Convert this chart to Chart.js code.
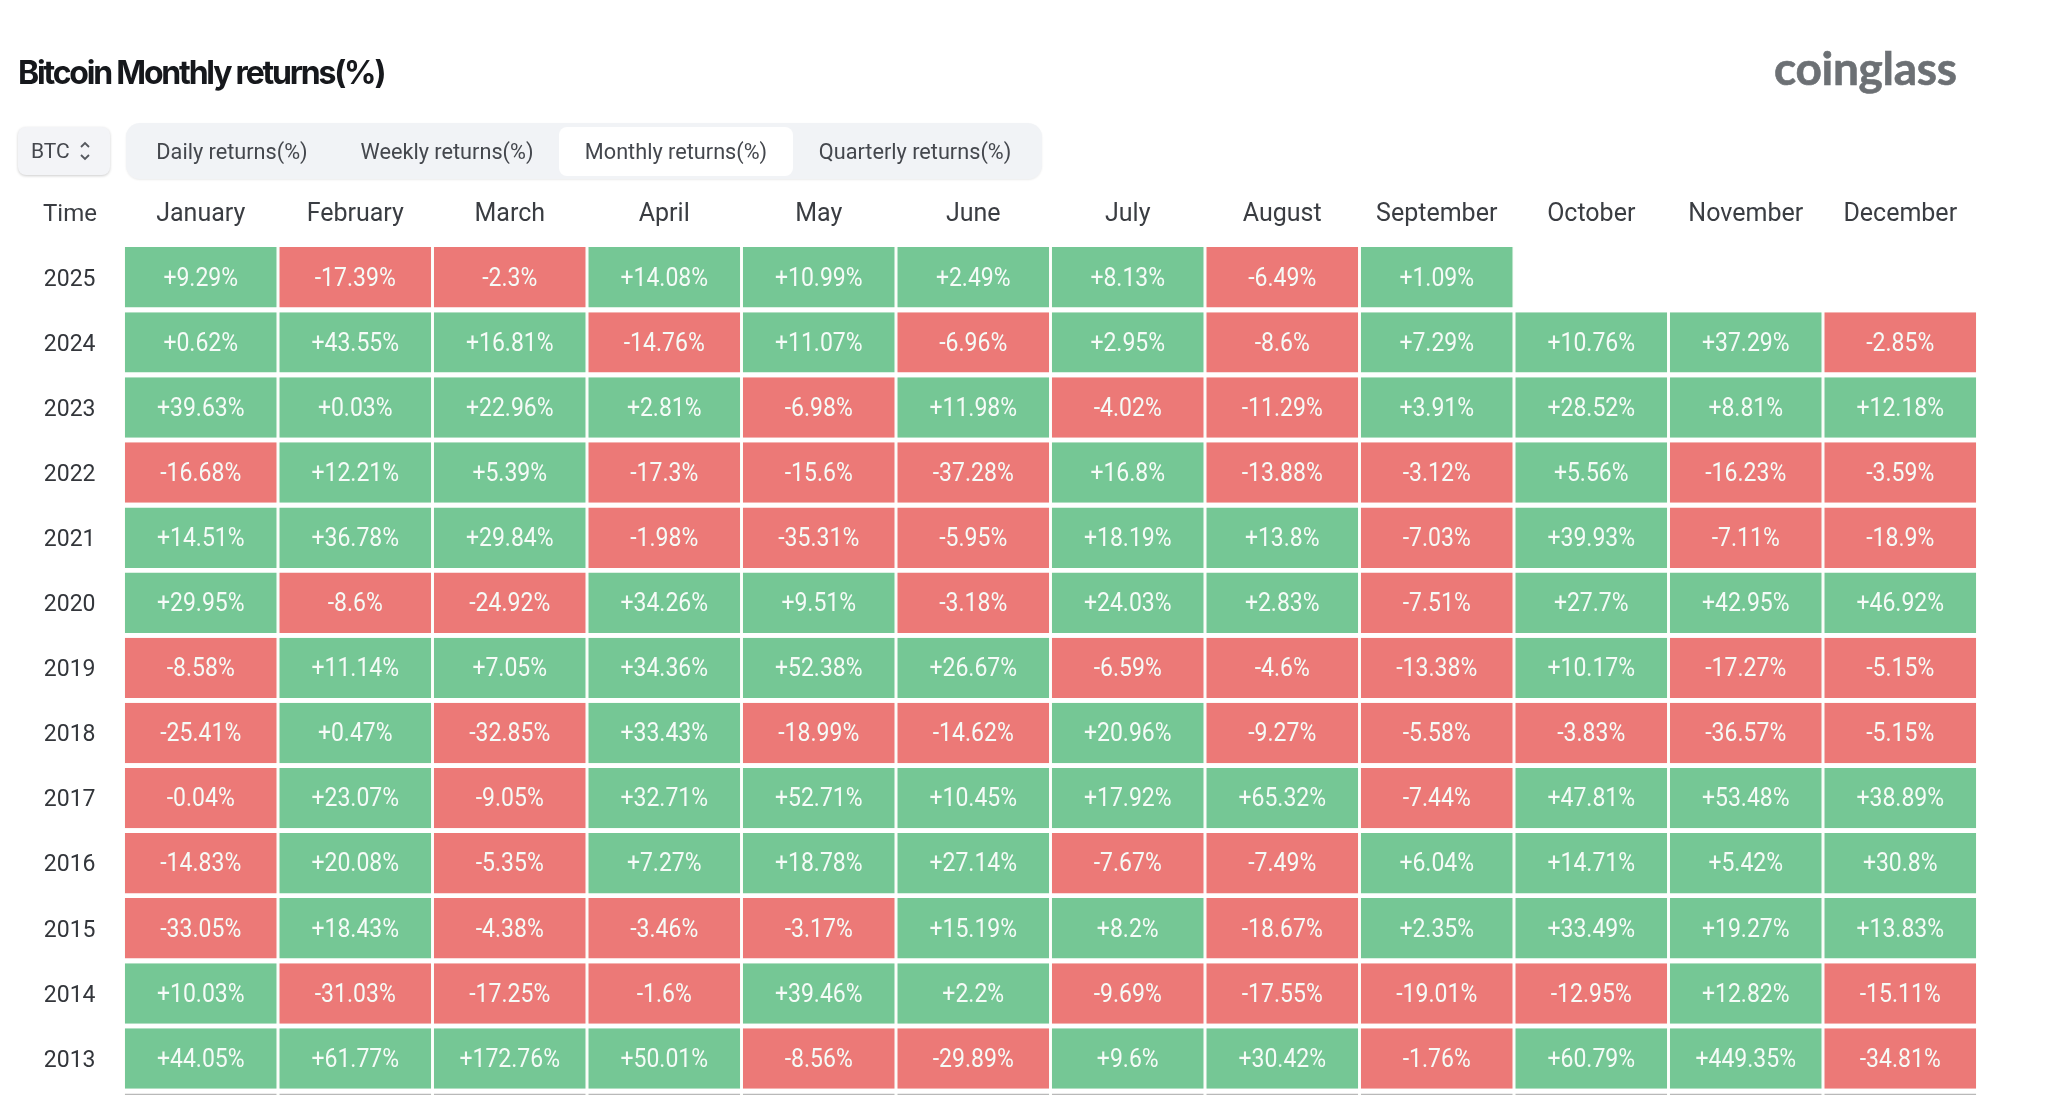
<!DOCTYPE html>
<html>
<head>
<meta charset="utf-8">
<title>Bitcoin Monthly returns(%)</title>
<script src="https://cdn.jsdelivr.net/npm/chart.js@4/dist/chart.umd.min.js"></script>
<style>
  html, body { margin: 0; width: 2048px; height: 1095px; overflow: hidden; background: #fff; font-family: Roboto, sans-serif; }
  .abs { position: absolute; white-space: nowrap; }
  #title { left: 18px; top: 53px; font: 700 32px Inter, sans-serif; letter-spacing: -2.2px; color: #16181c; }
  #logo { left: 1774px; top: 40px; font: 700 46px Lato, sans-serif; color: #6c7074; letter-spacing: -0.3px; -webkit-text-stroke: 0.6px #6c7074; }
  #coin { left: 18px; top: 127px; width: 92px; height: 48px; border-radius: 8px; background: #f3f4f7; box-shadow: 0 1px 3px rgba(0,0,0,.2); font-size: 21px; line-height: 48px; color: #44474d; text-indent: 13px; }
  #coin svg { position: absolute; left: 60px; top: 12px; }
  #tabs { left: 126px; top: 123px; width: 916px; height: 56px; border-radius: 14px; background: #f1f3f6; box-shadow: 0 1px 2px rgba(0,0,0,.08); }
  #active { left: 559px; top: 127px; width: 234px; height: 49px; border-radius: 8px; background: #fff; }
  .tab { top: 139px; font-size: 21.7px; line-height: 25px; color: #44474d; transform: translateX(-50%); }
  #time { left: 70px; top: 199px; font-size: 24px; line-height: 28px; color: #3a3d42; transform: translateX(-50%); }
  #chart { position: absolute; left: 0; top: 0; }
</style>
</head>
<body>
<canvas id="chart" width="2048" height="1198"></canvas>
<div class="abs" id="title">Bitcoin Monthly returns(%)</div>
<div class="abs" id="logo">coinglass</div>
<div class="abs" id="coin">BTC<svg width="14" height="24" viewBox="0 0 14 24" fill="none" stroke="#55585e" stroke-width="1.8"><path d="M3 8l4-4 4 4M3 16l4 4 4-4"/></svg></div>
<div class="abs" id="tabs"></div>
<div class="abs" id="active"></div>
<div class="abs tab" style="left:232px">Daily returns(%)</div>
<div class="abs tab" style="left:447px">Weekly returns(%)</div>
<div class="abs tab" style="left:676px">Monthly returns(%)</div>
<div class="abs tab" style="left:915px">Quarterly returns(%)</div>
<div class="abs" id="time">Time</div>
<script>
const months = ['January', 'February', 'March', 'April', 'May', 'June', 'July', 'August', 'September', 'October', 'November', 'December'];
// last row is cut off by the bottom of the picture, only its grey top edge shows
const years = ['2025', '2024', '2023', '2022', '2021', '2020', '2019', '2018', '2017', '2016', '2015', '2014', '2013', ''];

const r2025 = [9.29, -17.39, -2.3, 14.08, 10.99, 2.49, 8.13, -6.49, 1.09, null, null, null];
const r2024 = [0.62, 43.55, 16.81, -14.76, 11.07, -6.96, 2.95, -8.6, 7.29, 10.76, 37.29, -2.85];
const r2023 = [39.63, 0.03, 22.96, 2.81, -6.98, 11.98, -4.02, -11.29, 3.91, 28.52, 8.81, 12.18];
const r2022 = [-16.68, 12.21, 5.39, -17.3, -15.6, -37.28, 16.8, -13.88, -3.12, 5.56, -16.23, -3.59];
const r2021 = [14.51, 36.78, 29.84, -1.98, -35.31, -5.95, 18.19, 13.8, -7.03, 39.93, -7.11, -18.9];
const r2020 = [29.95, -8.6, -24.92, 34.26, 9.51, -3.18, 24.03, 2.83, -7.51, 27.7, 42.95, 46.92];
const r2019 = [-8.58, 11.14, 7.05, 34.36, 52.38, 26.67, -6.59, -4.6, -13.38, 10.17, -17.27, -5.15];
const r2018 = [-25.41, 0.47, -32.85, 33.43, -18.99, -14.62, 20.96, -9.27, -5.58, -3.83, -36.57, -5.15];
const r2017 = [-0.04, 23.07, -9.05, 32.71, 52.71, 10.45, 17.92, 65.32, -7.44, 47.81, 53.48, 38.89];
const r2016 = [-14.83, 20.08, -5.35, 7.27, 18.78, 27.14, -7.67, -7.49, 6.04, 14.71, 5.42, 30.8];
const r2015 = [-33.05, 18.43, -4.38, -3.46, -3.17, 15.19, 8.2, -18.67, 2.35, 33.49, 19.27, 13.83];
const r2014 = [10.03, -31.03, -17.25, -1.6, 39.46, 2.2, -9.69, -17.55, -19.01, -12.95, 12.82, -15.11];
const r2013 = [44.05, 61.77, 172.76, 50.01, -8.56, -29.89, 9.6, 30.42, -1.76, 60.79, 449.35, -34.81];
const rCut = [0, 0, 0, 0, 0, 0, 0, 0, 0, 0, 0, 0];

const rows = [r2025, r2024, r2023, r2022, r2021, r2020, r2019, r2018, r2017, r2016, r2015, r2014, r2013, rCut];

const GREEN = '#75c795';
const RED = '#ec7977';
const GREY = '#b9b9b9';

function cellColor(v) {
  if (v === 0) return GREY;
  return v > 0 ? GREEN : RED;
}

// every cell is one unit wide, one stacked dataset per month
const datasets = months.map((m, col) => ({
  label: m,
  data: rows.map(r => (r[col] === null ? null : 1)),
  backgroundColor: rows.map(r => cellColor(r[col])),
  borderColor: '#fbfdf9',
  borderWidth: { left: 1.5, right: 1.5, top: 0, bottom: 0 },
  borderSkipped: false,
  inflateAmount: 0,
  barPercentage: 0.928,
  categoryPercentage: 1,
}));

const cellLabels = {
  id: 'cellLabels',
  afterDatasetsDraw(chart) {
    const ctx = chart.ctx;
    ctx.save();
    ctx.font = '25px Roboto, sans-serif';
    ctx.fillStyle = '#f5fbf7';
    ctx.textAlign = 'center';
    ctx.textBaseline = 'middle';
    months.forEach((m, col) => {
      chart.getDatasetMeta(col).data.forEach((bar, row) => {
        const v = rows[row][col];
        if (!v) return;
        const p = bar.getCenterPoint();
        const text = (v > 0 ? '+' : '') + v + '%';
        // the original face is narrower than Roboto
        ctx.fillText(text, p.x, p.y + 2, ctx.measureText(text).width * 0.92);
      });
    });
    ctx.restore();
  }
};

new Chart(document.getElementById('chart'), {
  type: 'bar',
  data: { labels: years, datasets },
  plugins: [cellLabels],
  options: {
    indexAxis: 'y',
    responsive: false,
    animation: false,
    layout: { padding: { right: 70.5, bottom: 4.4 } },
    plugins: { legend: { display: false }, tooltip: { enabled: false } },
    scales: {
      x: { stacked: true, display: false, min: 0, max: 12 },
      x2: {
        type: 'category',
        labels: months,
        position: 'top',
        offset: true,
        border: { display: false },
        grid: { display: false, drawTicks: false },
        ticks: { padding: 15, maxRotation: 0, autoSkip: false, color: '#3a3d42', font: { family: 'Roboto', size: 25 } },
        afterFit(scale) { scale.height = 244.7; },
      },
      y: {
        stacked: true,
        border: { display: false },
        grid: { display: false, drawTicks: false },
        ticks: { padding: 28, labelOffset: 2.5, autoSkip: false, color: '#33363b', font: { family: 'Roboto', size: 23 } },
        afterFit(scale) { scale.width = 123.5; },
      },
    },
  },
});
</script>
</body>
</html>
